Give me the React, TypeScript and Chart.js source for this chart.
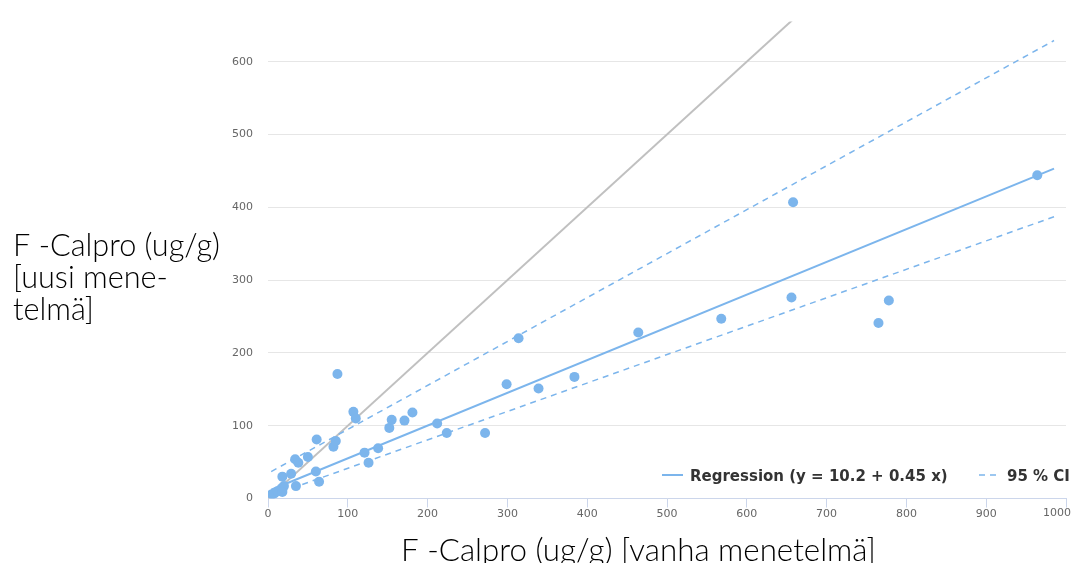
import React, { useEffect, useRef } from 'react';
import { Chart, registerables } from 'chart.js';

Chart.register(...registerables);

// Scatter data: old method (x) vs new method (y), ug/g
const oldMethod = [5, 8, 12, 17, 20, 18, 18, 29, 35, 34, 38, 50, 60, 64, 61, 82, 85, 87, 107, 110, 121, 126, 138, 152, 155, 171, 181, 212, 224, 272, 299, 314, 339, 384, 464, 568, 656, 658, 765, 778, 964];
const newMethod = [6, 7, 10, 14, 17, 9, 30, 34, 17, 54, 49, 57, 37, 23, 81, 71, 79, 171, 119, 110, 63, 49, 69, 97, 108, 107, 118, 103, 90, 90, 157, 220, 151, 167, 228, 247, 276, 407, 241, 272, 444];

// Lines (end points)
const identityX = [0, 1000];
const identityY = [0, 1000];
const regressionX = [4, 985];
const regressionY = [12, 453];
const ciUpperX = [4, 985];
const ciUpperY = [37, 629];
const ciLowerX = [4, 985];
const ciLowerY = [4, 387];

const xTicks = [0, 100, 200, 300, 400, 500, 600, 700, 800, 900, 1000];
const yTicks = [0, 100, 200, 300, 400, 500, 600];

const yTitleLines = ['F -Calpro (ug/g)', '[uusi mene-', 'telmä]'];
const xTitle = 'F -Calpro (ug/g) [vanha menetelmä]';
const legendRegression = 'Regression (y = 10.2 + 0.45 x)';
const legendCI = '95 % CI';

const BLUE = '#7cb5ec';
const TICK_FONT = '"DejaVu Sans", sans-serif';
const TITLE_FONT = 'Lato, "DejaVu Sans", sans-serif';

const pairs = (xs: number[], ys: number[]) => xs.map((x, i) => ({ x, y: ys[i] }));

const extrasPlugin = {
  id: 'extras',
  afterDraw(chart: any) {
    const ctx: CanvasRenderingContext2D = chart.ctx;
    const xScale = chart.scales.x;
    ctx.save();

    // last x tick label (kept inside the canvas)
    ctx.font = `11px ${TICK_FONT}`;
    ctx.fillStyle = '#666666';
    ctx.textAlign = 'right';
    ctx.textBaseline = 'top';
    ctx.fillText(String(xTicks[xTicks.length - 1]), chart.width, xScale.top + 9);

    // axis titles
    const fit = (text: string, w: number) => {
      ctx.font = `300 24px ${TITLE_FONT}`;
      return (24 * w) / ctx.measureText(text).width;
    };
    ctx.fillStyle = '#000000';
    ctx.textAlign = 'left';
    ctx.textBaseline = 'alphabetic';
    const ys = fit(yTitleLines[0], 207);
    ctx.font = `300 ${ys}px ${TITLE_FONT}`;
    yTitleLines.forEach((t, i) => ctx.fillText(t, 13, 256 + i * 32));
    const xs = fit(xTitle, 475);
    ctx.font = `300 ${xs}px ${TITLE_FONT}`;
    ctx.fillText(xTitle, 401, 561);

    // legend
    ctx.strokeStyle = BLUE;
    ctx.lineWidth = 2;
    ctx.beginPath();
    ctx.moveTo(662, 475);
    ctx.lineTo(683, 475);
    ctx.stroke();
    ctx.setLineDash([6, 5]);
    ctx.lineWidth = 1.5;
    ctx.beginPath();
    ctx.moveTo(979, 475);
    ctx.lineTo(1001, 475);
    ctx.stroke();
    ctx.setLineDash([]);
    ctx.font = `bold 15px ${TICK_FONT}`;
    ctx.fillStyle = '#333333';
    ctx.fillText(legendRegression, 690, 481);
    ctx.fillText(legendCI, 1007, 481);

    ctx.restore();
  },
};

export default function App() {
  const canvasRef = useRef<HTMLCanvasElement | null>(null);

  useEffect(() => {
    if (!canvasRef.current) return;
    const chart = new Chart(canvasRef.current, {
      type: 'scatter',
      data: {
        datasets: [
          {
            label: 'data',
            data: pairs(oldMethod, newMethod),
            backgroundColor: BLUE,
            borderWidth: 0,
            pointRadius: 5,
            showLine: false,
          },
          {
            label: legendRegression,
            data: pairs(regressionX, regressionY),
            borderColor: BLUE,
            borderWidth: 2,
            pointRadius: 0,
            showLine: true,
          },
          {
            label: legendCI,
            data: pairs(ciUpperX, ciUpperY),
            borderColor: BLUE,
            borderWidth: 1.5,
            borderDash: [6, 5],
            pointRadius: 0,
            showLine: true,
          },
          {
            label: legendCI + ' low',
            data: pairs(ciLowerX, ciLowerY),
            borderColor: BLUE,
            borderWidth: 1.5,
            borderDash: [6, 5],
            pointRadius: 0,
            showLine: true,
          },
          {
            label: 'y = x',
            data: pairs(identityX, identityY),
            borderColor: '#c0c0c0',
            borderWidth: 2,
            pointRadius: 0,
            showLine: true,
          },
        ],
      } as any,
      options: {
        responsive: false,
        animation: false,
        events: [],
        layout: { padding: { top: 18, right: 0, bottom: 0, left: 0 } },
        plugins: {
          legend: { display: false },
          tooltip: { enabled: false },
          title: { display: false },
        },
        scales: {
          x: {
            type: 'linear',
            min: 0,
            max: 1000,
            afterBuildTicks: (scale: any) => {
              scale.ticks = xTicks.map((v) => ({ value: v }));
            },
            afterFit: (scale: any) => {
              scale.height = 64.5;
            },
            ticks: {
              callback: (v: any) => (v === xTicks[xTicks.length - 1] ? '' : String(v)),
              font: { family: TICK_FONT, size: 11 },
              color: '#666666',
              padding: 0,
              maxRotation: 0,
              autoSkip: false,
            },
            grid: {
              drawOnChartArea: false,
              drawTicks: true,
              tickLength: 9,
              color: '#ccd6eb',
            },
            border: { display: true, color: '#ccd6eb', width: 1 },
          },
          y: {
            type: 'linear',
            min: 0,
            max: 655,
            afterBuildTicks: (scale: any) => {
              scale.ticks = yTicks.map((v) => ({ value: v }));
            },
            afterFit: (scale: any) => {
              scale.width = 268;
            },
            ticks: {
              font: { family: TICK_FONT, size: 11 },
              color: '#666666',
              padding: 15,
              autoSkip: false,
            },
            grid: { color: '#e6e6e6', drawTicks: false },
            border: { display: false },
          },
        },
      } as any,
      plugins: [extrasPlugin],
    });
    return () => chart.destroy();
  }, []);

  return (
    <div style={{ position: 'absolute', left: 0, top: 0, width: 1071, height: 563, background: '#ffffff' }}>
      <canvas ref={canvasRef} width={1071} height={563} />
    </div>
  );
}
